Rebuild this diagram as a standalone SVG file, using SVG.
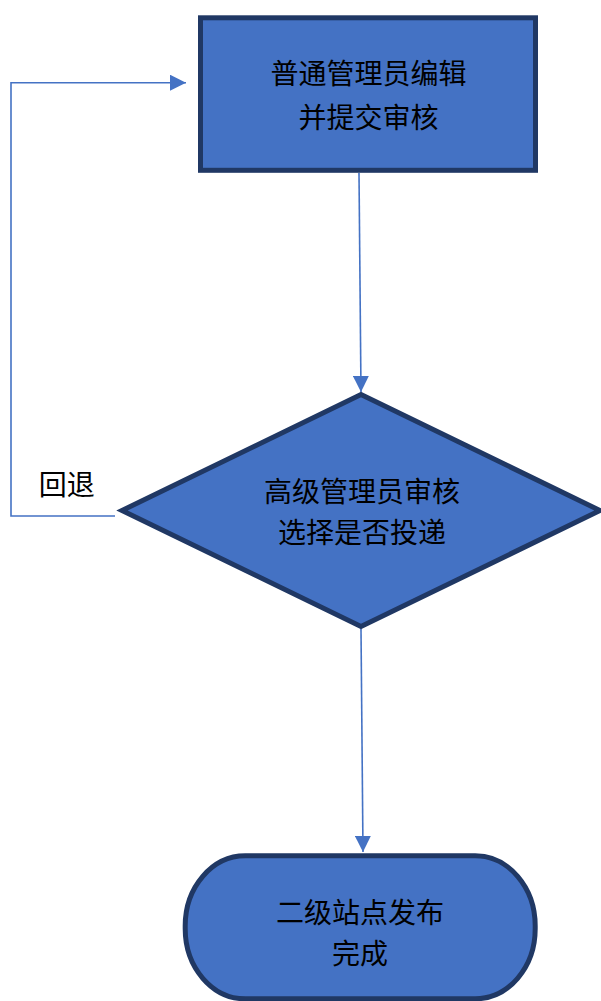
<svg xmlns="http://www.w3.org/2000/svg" width="601" height="1001" viewBox="0 0 601 1001">
<style>
.node{fill:#4472C4;stroke:#203864;stroke-width:5}
.lbl{font-family:"Noto Sans CJK SC","Noto Sans",sans-serif;font-size:28px;fill:#000;text-anchor:middle}
.conn{fill:none;stroke:#4472C4;stroke-width:1.6}
</style>
<defs>
<marker id="arr" markerUnits="userSpaceOnUse" markerWidth="16" markerHeight="16" refX="16" refY="8" orient="auto">
<path d="M0,0 L16,8 L0,16 Z" fill="#4472C4"/>
</marker>
</defs>
<rect width="601" height="1001" fill="#fff"/>
<g id="connectors">
<path class="conn" d="M359,173 L361,392" marker-end="url(#arr)"/>
<path class="conn" d="M361,629 L363,852" marker-end="url(#arr)"/>
<path class="conn" d="M115,516 L11,516 L11,82.7 L186,82.7" marker-end="url(#arr)"/>
<text class="lbl" x="66.7" y="494.5">回退</text>
</g>
<g id="node-edit">
<rect class="node" x="200.5" y="17.8" width="335" height="152.5"/>
<text class="lbl" x="368.5" y="84">普通管理员编辑</text>
<text class="lbl" x="368.5" y="127.5">并提交审核</text>
</g>
<g id="node-review">
<polygon class="node" points="361,394.5 600,510.5 361,626.5 122,510.5"/>
<text class="lbl" x="362" y="501.5">高级管理员审核</text>
<text class="lbl" x="362" y="543">选择是否投递</text>
</g>
<g id="node-publish">
<rect class="node" x="185.2" y="855.8" width="350" height="143" rx="60" ry="70"/>
<text class="lbl" x="360" y="922.5">二级站点发布</text>
<text class="lbl" x="360" y="964">完成</text>
</g>
</svg>
